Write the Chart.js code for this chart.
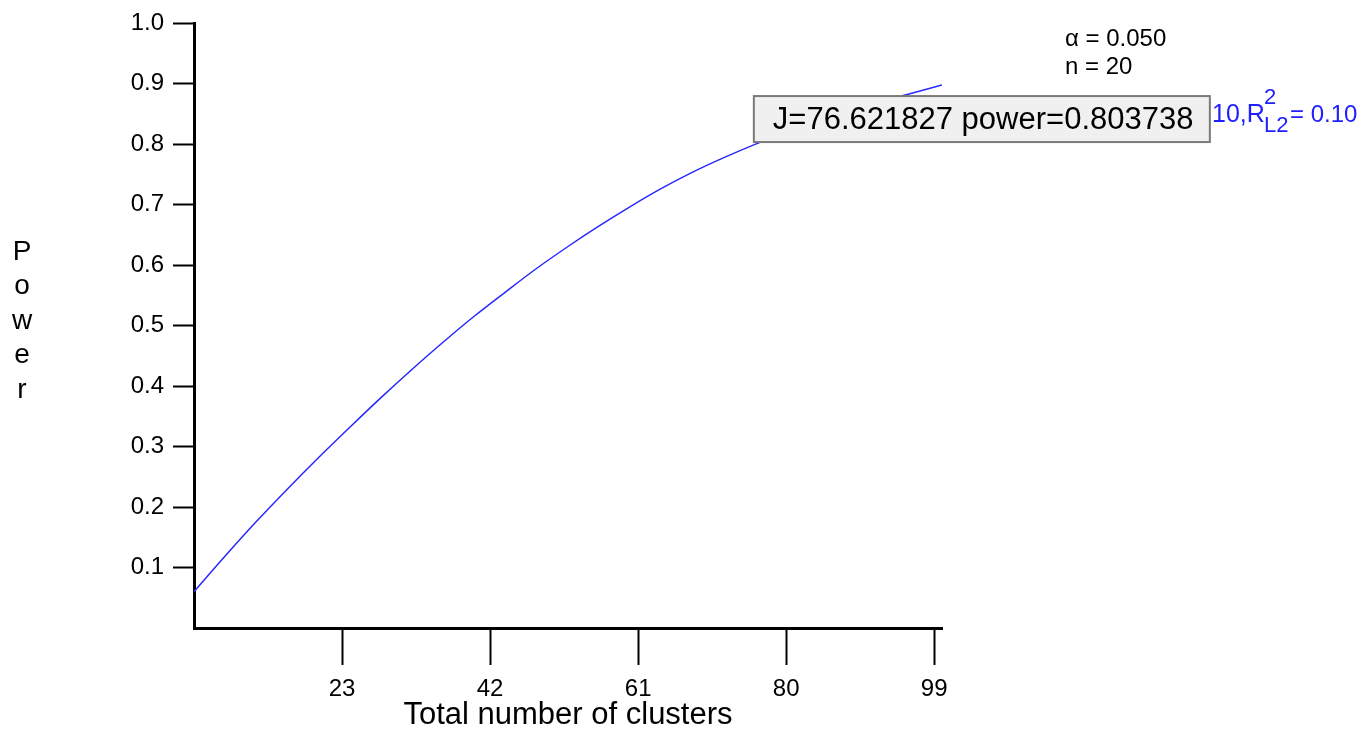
<!DOCTYPE html>
<html>
<head>
<meta charset="utf-8">
<script src="https://cdn.jsdelivr.net/npm/chart.js@4/dist/chart.umd.min.js"></script>
<style>
  html, body { margin: 0; padding: 0; background: #fff; }
  #wrap { width: 1361px; height: 729px; }
</style>
</head>
<body>
<div id="wrap"><canvas id="c"></canvas></div>
<script>
// J = total number of clusters
const clusters = [4, 8, 12, 16, 20, 24, 28, 32, 36, 40, 44, 48, 52, 56, 60, 64, 68, 72, 76, 80, 84, 88, 92, 96, 100];
const power = [0.060, 0.119, 0.176, 0.230, 0.282, 0.332, 0.381, 0.428, 0.473, 0.516, 0.556, 0.595, 0.631, 0.665, 0.697, 0.727, 0.754, 0.778, 0.800, 0.820, 0.838, 0.855, 0.870, 0.884, 0.898];
const xTicks = [23, 42, 61, 80, 99];
const hoverJ = 76.621827;
const hoverPower = 0.803738;

const FONT = '"Liberation Sans", Arial, sans-serif';

const overlay = {
  id: 'overlay',
  afterDraw(chart) {
    const ctx = chart.ctx;
    const area = chart.chartArea;
    ctx.save();

    // vertical "Power" label
    ctx.fillStyle = '#000';
    ctx.font = '28px ' + FONT;
    ctx.textAlign = 'center';
    ctx.textBaseline = 'middle';
    'Power'.split('').forEach((ch, i) => ctx.fillText(ch, 22, 252 + i * 34.5));

    // x axis title
    ctx.font = '31px ' + FONT;
    ctx.textBaseline = 'alphabetic';
    ctx.fillText('Total number of clusters', (area.left + area.right) / 2, 724);

    // alpha and n
    ctx.textAlign = 'left';
    ctx.font = '24px ' + FONT;
    ctx.fillText('\u03b1 = 0.050', 1065, 46);
    ctx.fillText('n = 20', 1065, 74);

    // blue parameter text (partly under the hover box)
    ctx.fillStyle = '#2020ff';
    ctx.font = '25px ' + FONT;
    ctx.fillText('10,R', 1212, 122);
    ctx.font = '22px ' + FONT;
    ctx.fillText('2', 1264, 104);
    ctx.fillText('L2', 1264, 132);
    ctx.font = '24px ' + FONT;
    ctx.fillText('= 0.10', 1290, 122);

    // hover box anchored on the point
    const px = chart.scales.x.getPixelForValue(hoverJ) - 6;
    const py = chart.scales.y.getPixelForValue(hoverPower);
    const w = 456, hgt = 46;
    ctx.fillStyle = '#f0f0f0';
    ctx.fillRect(px, py - hgt, w, hgt);
    ctx.strokeStyle = '#7a7a7a';
    ctx.lineWidth = 2;
    ctx.strokeRect(px, py - hgt, w, hgt);
    ctx.fillStyle = '#000';
    ctx.font = '31px ' + FONT;
    ctx.fillText('J=' + hoverJ.toFixed(6) + ' power=' + hoverPower.toFixed(6), px + 19, py - 13);

    ctx.restore();
  }
};

new Chart(document.getElementById('c'), {
  type: 'line',
  data: {
    datasets: [{
      data: clusters.map((j, i) => ({ x: j, y: power[i] })),
      borderColor: '#2828ff',
      borderWidth: 1.5,
      pointRadius: 0,
      cubicInterpolationMode: 'monotone',
      fill: false
    }]
  },
  options: {
    responsive: true,
    maintainAspectRatio: false,
    animation: false,
    layout: { padding: { left: 0, right: 419, top: 20, bottom: 0 } },
    plugins: { legend: { display: false }, tooltip: { enabled: false } },
    scales: {
      x: {
        type: 'linear',
        min: 4,
        max: 100,
        afterBuildTicks: s => { s.ticks = xTicks.map(v => ({ value: v })); },
        afterFit: s => { s.height = 101; },
        border: { color: '#000', width: 3 },
        grid: { drawOnChartArea: false, drawTicks: true, tickLength: 37, tickWidth: 2, tickColor: '#000' },
        ticks: { color: '#000', font: { family: FONT, size: 24 }, padding: 10, maxRotation: 0 }
      },
      y: {
        min: 0,
        max: 1,
        afterFit: s => { s.width = 194; },
        border: { color: '#000', width: 3 },
        grid: {
          drawOnChartArea: false, drawTicks: true, tickLength: 21, tickWidth: 2,
          tickColor: c => (c.tick && c.tick.value === 0 ? 'rgba(0,0,0,0)' : '#000')
        },
        ticks: {
          stepSize: 0.1,
          color: '#000',
          padding: 9,
          font: { family: FONT, size: 24 },
          callback: v => (v === 0 ? '' : v.toFixed(1))
        }
      }
    }
  },
  plugins: [overlay]
});
</script>
</body>
</html>
